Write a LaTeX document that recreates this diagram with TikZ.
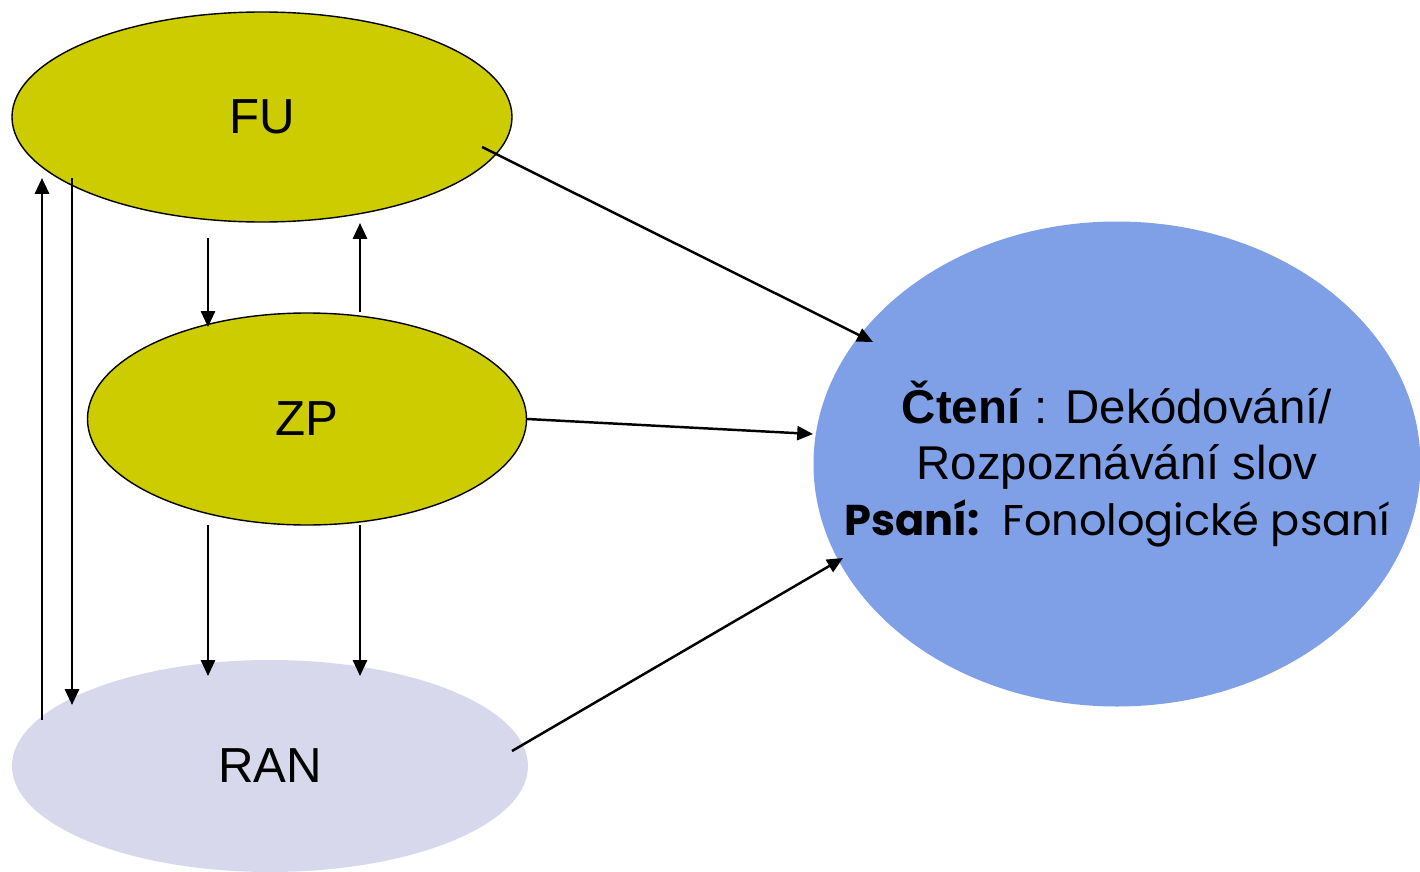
\documentclass[tikz,border=0pt]{standalone}
\usepackage{fontspec}
\setmainfont{Liberation Sans}
\newfontfamily\comicfont{Poppins}
\usetikzlibrary{shapes.geometric,arrows.meta}
\definecolor{fuyellow}{RGB}{204,204,0}
\definecolor{ranlilac}{RGB}{216,216,236}
\definecolor{ctblue}{RGB}{127,159,230}
\begin{document}
\begin{tikzpicture}[x=0.02cm,y=-0.02cm,
                    small node/.style={ellipse,inner sep=0pt,font=\fontsize{28}{32}\selectfont},
                    arrow/.style={line width=1.4pt,-{Triangle[length=9pt,width=8pt]}}
                   ]
  \useasboundingbox (0,0) rectangle (1420,872);
  \node[small node,fill=ranlilac,minimum width=516*0.02cm,minimum height=212*0.02cm] (RAN) at (270,766) {RAN};
  \node[ellipse,fill=ctblue,inner sep=0pt,minimum width=607*0.02cm,minimum height=485*0.02cm] (CT) at (1117,464) {};
  \node[align=center,inner sep=0pt,font=\fontsize{27}{32}\selectfont] (CTtext) at (CT.center)
       {\textbf{Čtení} : Dekódování/\\Rozpoznávání slov\\{\comicfont\fontsize{24.5}{32}\selectfont\textbf{Psaní:}\ \ Fonologické psaní}};
  \node[small node,draw,line width=0.8pt,fill=fuyellow,minimum width=500*0.02cm,minimum height=210*0.02cm] (FU) at (262,117) {FU};
  \node[small node,draw,line width=0.8pt,fill=fuyellow,minimum width=439*0.02cm,minimum height=212*0.02cm] (ZP) at (307,419) {ZP};

  % free ends of the arrows
  \coordinate (r1) at (42,720);   \coordinate (f1) at (42,178);
  \coordinate (f2) at (72,178);   \coordinate (r2) at (72,705);
  \coordinate (f3) at (208,238);  \coordinate (z3) at (208,327);
  \coordinate (z4) at (360,312);  \coordinate (f4) at (360,223);
  \coordinate (z5) at (208,525);  \coordinate (r5) at (208,676);
  \coordinate (z6) at (360,525);  \coordinate (r6) at (360,676);
  \coordinate (f7) at (482,147);  \coordinate (c7) at (873,342);
  \coordinate (c8) at (813,434);
  \coordinate (r9) at (512,751);  \coordinate (c9) at (843,558);

  \path[arrow]%
   (r1) edge (f1)
   (f2) edge (r2)
   (f3) edge (z3)
   (z4) edge (f4)
   (z5) edge (r5)
   (z6) edge (r6)
   (f7) edge (c7)
   (ZP.east) edge (c8)
   (r9) edge (c9);
\end{tikzpicture}
\end{document}
